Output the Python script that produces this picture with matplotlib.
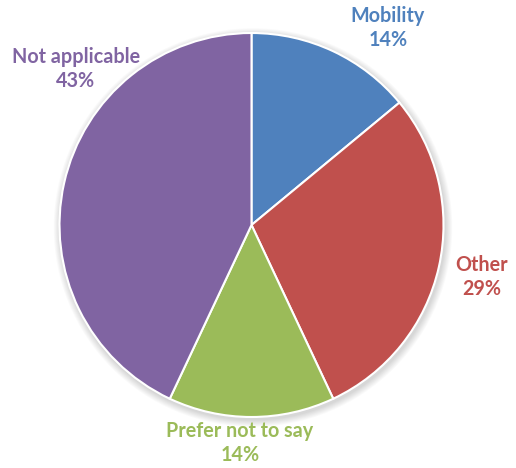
import matplotlib
matplotlib.use("Agg")
import matplotlib.pyplot as plt
from matplotlib.patches import Circle

categories = ["Mobility", "Other", "Prefer not to say", "Not applicable"]
shares = [14, 29, 14, 43]
colors = ["#4F81BD", "#C0504D", "#9BBB59", "#8064A2"]
label_pos = [(388, 440), (482, 191), (240, 25), (76, 399)]

W, H = 516, 468
fig = plt.figure(figsize=(W / 100, H / 100), dpi=100)
ax = fig.add_axes([0, 0, 1, 1])

cx, cy, r = 251.5, 243, 192

# soft drop shadow under the pie
for i in range(8):
    ax.add_patch(Circle((cx + 1.5, cy - 2.5), r + 1 + i * 0.9, color="black",
                        alpha=0.018, lw=0, zorder=0))

ax.pie(shares, colors=colors, startangle=90, counterclock=False,
       center=(cx, cy), radius=r, frame=True,
       wedgeprops=dict(edgecolor="white", linewidth=1.5, zorder=2))
ax.set_xlim(0, W)
ax.set_ylim(0, H)
ax.set_aspect("equal")
ax.axis("off")

for name, val, col, (x, y) in zip(categories, shares, colors, label_pos):
    ax.text(x, y, f"{name}\n{val}%", ha="center", va="center", color=col,
            fontsize=14.2, fontweight="bold", family=["Lato", "DejaVu Sans"],
            linespacing=1.2)

fig.savefig("out.png", dpi=100)
